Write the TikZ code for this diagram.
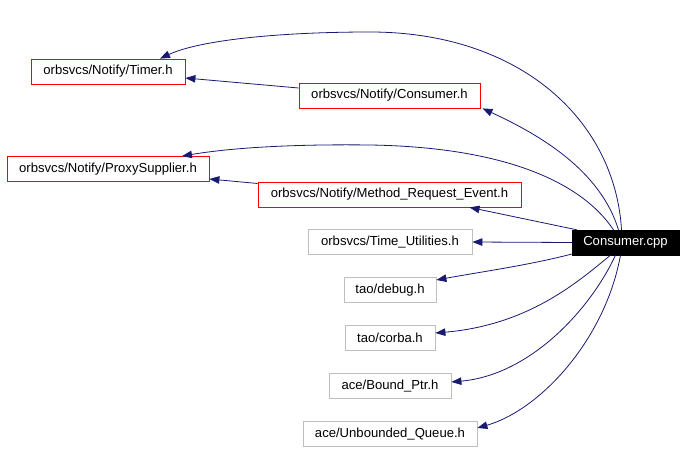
\documentclass[tikz,border=0pt]{standalone}
\usepackage{fontspec}
\setmainfont{Liberation Sans}
\usetikzlibrary{arrows.meta}
\definecolor{edgeblue}{RGB}{25,25,112}
\definecolor{boxred}{RGB}{255,0,0}
\definecolor{boxgray}{RGB}{191,191,191}
\begin{document}
\begin{tikzpicture}[x=1pt,y=-1pt,
  every node/.style={font=\fontsize{13.1}{15}\selectfont, inner sep=0pt, minimum height=25pt, anchor=center},
  redbox/.style={draw=boxred, line width=0.8pt},
  graybox/.style={draw=boxgray, line width=0.8pt},
  mainbox/.style={fill=black, draw=black, text=white},
  dep/.style={draw=edgeblue, line width=0.8pt, -{Triangle[length=10pt,width=7.5pt]}}]
\useasboundingbox (0,0) rectangle (685,452);
\node[redbox, minimum width=154pt] (timer) at (108,71.5) {orbsvcs/Notify/Timer.h};
\node[redbox, minimum width=181pt] (consh) at (389.5,95.5) {orbsvcs/Notify/Consumer.h};
\node[redbox, minimum width=202pt] (proxy) at (108,169) {orbsvcs/Notify/ProxySupplier.h};
\node[redbox, minimum width=263pt] (mre) at (389.5,194.5) {orbsvcs/Notify/Method\_Request\_Event.h};
\node[graybox, minimum width=164pt] (tu) at (390,242) {orbsvcs/Time\_Utilities.h};
\node[mainbox, minimum width=107pt] (cpp) at (625.5,242.5) {Consumer.cpp};
\node[graybox, minimum width=92pt] (debug) at (390,290) {tao/debug.h};
\node[graybox, minimum width=90pt] (corba) at (390,338) {tao/corba.h};
\node[graybox, minimum width=122pt] (bptr) at (390,386) {ace/Bound\_Ptr.h};
\node[graybox, minimum width=174pt] (uq) at (390,434) {ace/Unbounded\_Queue.h};
\coordinate (top1) at (370,32);
\coordinate (top2) at (370,145);
% edges
\draw[dep] ([xshift=-4pt]cpp.north) .. controls (615,120) and (520,32) .. (top1) .. controls (280,32) and (200,40) .. ([xshift=52pt]timer.north);
\draw[dep] ([yshift=7.5pt]consh.west) -- ([yshift=-6.5pt]timer.east);
\draw[dep] ([xshift=-7pt]cpp.north) .. controls (600,170) and (540,135) .. ([xshift=93pt]consh.south);
\draw[dep] ([xshift=-12pt]cpp.north) .. controls (580,180) and (500,147) .. (top2) .. controls (290,144) and (230,148) .. ([xshift=74pt]proxy.north);
\draw[dep] ([yshift=11pt]mre.west) -- ([yshift=-10pt]proxy.east);
\draw[dep] ([xshift=5pt]cpp.north west) -- ([xshift=80pt]mre.south);
\draw[dep] (cpp.west) -- (tu.east);
\draw[dep] ([yshift=-11.5pt]cpp.west) .. controls (530,265) and (480,272) .. ([yshift=10pt]debug.east);
\draw[dep] ([xshift=-15pt]cpp.south) .. controls (580,280) and (530,325) .. ([yshift=5pt]corba.east);
\draw[dep] ([xshift=-10pt]cpp.south) .. controls (590,310) and (530,375) .. ([yshift=4pt]bptr.east);
\draw[dep] ([xshift=-5pt]cpp.south) .. controls (605,340) and (540,410) .. ([yshift=6pt]uq.east);
\end{tikzpicture}
\end{document}
